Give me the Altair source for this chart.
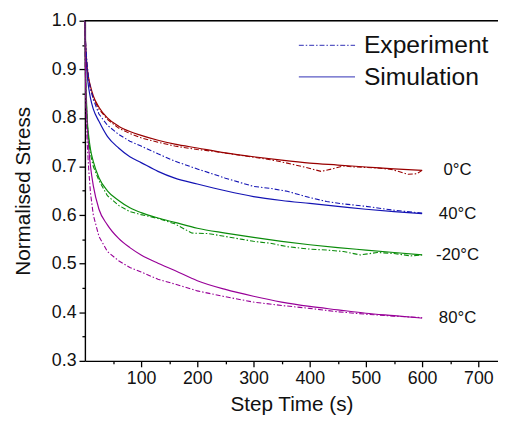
import altair as alt
import pandas as pd

# ---------------- data ----------------
temps = ["0°C", "40°C", "-20°C", "80°C"]
colors = ["#990000", "#1414b4", "#0b8c0b", "#980098"]

sim_t = [0, 1, 2, 4, 7, 10, 15, 25, 40, 60, 80, 100, 130, 160, 200, 250, 300, 350, 400, 450, 500, 550, 600]
sim_0 = [1.0, 0.96, 0.935, 0.905, 0.88, 0.865, 0.845, 0.822, 0.8, 0.783, 0.772, 0.764, 0.754, 0.746, 0.738, 0.728, 0.72, 0.713, 0.707, 0.703, 0.699, 0.695, 0.692]
sim_40 = [1.0, 0.95, 0.925, 0.89, 0.86, 0.84, 0.818, 0.793, 0.762, 0.738, 0.72, 0.708, 0.69, 0.676, 0.664, 0.65, 0.638, 0.63, 0.624, 0.618, 0.612, 0.607, 0.603]
sim_m20 = [1.0, 0.9, 0.86, 0.8, 0.76, 0.735, 0.71, 0.677, 0.65, 0.63, 0.615, 0.605, 0.594, 0.585, 0.573, 0.563, 0.554, 0.546, 0.539, 0.533, 0.528, 0.523, 0.518]
sim_80 = [1.0, 0.9, 0.85, 0.79, 0.735, 0.7, 0.66, 0.612, 0.58, 0.552, 0.533, 0.518, 0.501, 0.486, 0.465, 0.447, 0.433, 0.421, 0.412, 0.405, 0.398, 0.393, 0.388]

exp_0_t = [0, 1, 2, 4, 7, 10, 15, 25, 40, 60, 80, 100, 130, 160, 200, 230, 260, 300, 330, 360, 390, 420, 440, 460, 480, 500, 520, 545, 560, 575, 590, 600]
exp_0 = [1.0, 0.955, 0.93, 0.9, 0.875, 0.86, 0.84, 0.818, 0.797, 0.779, 0.768, 0.759, 0.75, 0.742, 0.735, 0.731, 0.726, 0.719, 0.714, 0.707, 0.699, 0.69, 0.695, 0.701, 0.699, 0.698, 0.697, 0.694, 0.689, 0.684, 0.685, 0.692]

exp_40_t = [0, 1, 2, 4, 7, 10, 15, 25, 40, 60, 80, 100, 130, 160, 200, 250, 300, 330, 360, 400, 430, 460, 500, 550, 600]
exp_40 = [1.0, 0.96, 0.94, 0.91, 0.878, 0.86, 0.838, 0.808, 0.785, 0.766, 0.752, 0.742, 0.726, 0.711, 0.695, 0.676, 0.659, 0.655, 0.649, 0.636, 0.628, 0.623, 0.618, 0.61, 0.604]

exp_m20_t = [0, 1, 2, 4, 7, 10, 15, 25, 40, 60, 80, 100, 130, 160, 190, 220, 250, 280, 300, 330, 360, 400, 430, 460, 490, 520, 550, 580, 600]
exp_m20 = [1.0, 0.89, 0.85, 0.79, 0.75, 0.725, 0.7, 0.671, 0.64, 0.62, 0.607, 0.601, 0.593, 0.582, 0.563, 0.562, 0.556, 0.55, 0.546, 0.542, 0.535, 0.53, 0.528, 0.525, 0.518, 0.523, 0.521, 0.516, 0.518]

exp_80_t = [0, 1, 2, 4, 7, 10, 15, 25, 40, 60, 80, 100, 130, 160, 200, 250, 300, 350, 400, 450, 500, 550, 600]
exp_80 = [1.0, 0.88, 0.82, 0.75, 0.69, 0.645, 0.6, 0.556, 0.525, 0.506, 0.492, 0.483, 0.468, 0.458, 0.444, 0.432, 0.421, 0.414, 0.408, 0.401, 0.396, 0.392, 0.389]

legend_labels = ["Experiment", "Simulation"]

# ---------------- tables ----------------
sim_rows = []
for temp, vals in zip(temps, [sim_0, sim_40, sim_m20, sim_80]):
    for t, v in zip(sim_t, vals):
        sim_rows.append({"t": t, "v": v, "temp": temp})
sim_df = pd.DataFrame(sim_rows)

exp_rows = []
for temp, ts, vals in zip(temps, [exp_0_t, exp_40_t, exp_m20_t, exp_80_t], [exp_0, exp_40, exp_m20, exp_80]):
    for t, v in zip(ts, vals):
        exp_rows.append({"t": t, "v": v, "temp": temp})
exp_df = pd.DataFrame(exp_rows)

label_df = pd.DataFrame({"temp": temps, "v": [s[-1] for s in [sim_0, sim_40, sim_m20, sim_80]]})

FONT = "Liberation Sans"
x_scale = alt.Scale(domain=[0, 735], nice=False, zero=False)
y_scale = alt.Scale(domain=[0.3, 1.0], nice=False, zero=False)
color_scale = alt.Scale(domain=temps, range=colors)

major_y = "abs(datum.value*10 - round(datum.value*10)) < 0.001"

x_axis = alt.Axis(
    values=list(range(50, 701, 50)),
    labelExpr="datum.value % 100 === 0 ? datum.label : ''",
    tickSize={"condition": {"test": "datum.value % 100 === 0", "value": 6}, "value": 3},
    grid=False, domainColor="black", tickColor="black", domainWidth=1.4, tickWidth=1.3,
    labelFont=FONT, labelFontSize=18, labelColor="#111111", labelPadding=3,
    titleFont=FONT, titleFontSize=21, titleFontWeight="normal", titleColor="#111111", titlePadding=6,
    title="Step Time (s)",
)
y_axis = alt.Axis(
    values=[round(0.3 + 0.05 * i, 2) for i in range(15)],
    labelExpr=major_y + " ? format(datum.value, '.1f') : ''",
    tickSize={"condition": {"test": major_y, "value": 6}, "value": 3},
    grid=False, domainColor="black", tickColor="black", domainWidth=1.4, tickWidth=1.3,
    labelFont=FONT, labelFontSize=18, labelColor="#111111", labelPadding=3,
    titleFont=FONT, titleFontSize=21, titleFontWeight="normal", titleColor="#111111", titlePadding=18,
    title="Normalised Stress",
)

X = alt.X("t:Q", scale=x_scale, axis=x_axis)
Y = alt.Y("v:Q", scale=y_scale, axis=y_axis)

sim = alt.Chart(sim_df).mark_line(strokeWidth=1.2, interpolate="monotone").encode(
    x=X, y=Y,
    color=alt.Color("temp:N", scale=color_scale, legend=None),
    order="t:Q",
)
exp = alt.Chart(exp_df).mark_line(strokeWidth=1.1, strokeDash=[5, 2, 1.5, 2]).encode(
    x=X, y=Y,
    color=alt.Color("temp:N", scale=color_scale, legend=None),
    order="t:Q",
)

labels = alt.Chart(label_df).mark_text(font=FONT, fontSize=17, align="center", baseline="middle", color="#111111").encode(
    x=alt.value(378),
    y=Y,
    text="temp:N",
)

top = alt.Chart(pd.DataFrame({"v": [1.0]})).mark_rule(color="black", strokeWidth=1.4).encode(y=Y)

leg_exp_line = alt.Chart(pd.DataFrame({"label": [legend_labels[0]]})).mark_rule(
    color="#5a5ac4", strokeWidth=1.2, strokeDash=[5, 2, 1.5, 2]
).encode(x=alt.value(217), x2=alt.value(274), y=alt.value(25))
leg_sim_line = alt.Chart(pd.DataFrame({"label": [legend_labels[1]]})).mark_rule(
    color="#5a5ac4", strokeWidth=1.2
).encode(x=alt.value(217), x2=alt.value(274), y=alt.value(57))
leg_exp_text = alt.Chart(pd.DataFrame({"label": [legend_labels[0]]})).mark_text(
    font=FONT, fontSize=25, align="left", baseline="middle", color="#111111"
).encode(x=alt.value(283), y=alt.value(25), text="label:N")
leg_sim_text = alt.Chart(pd.DataFrame({"label": [legend_labels[1]]})).mark_text(
    font=FONT, fontSize=25, align="left", baseline="middle", color="#111111"
).encode(x=alt.value(283), y=alt.value(57), text="label:N")

chart = alt.layer(
    sim, exp, top, labels, leg_exp_line, leg_sim_line, leg_exp_text, leg_sim_text
).properties(
    width=419, height=345,
    autosize=alt.AutoSizeParams(type="none"),
    padding={"left": 78, "top": 10, "right": 0, "bottom": 52},
).configure_view(strokeWidth=0).configure(background="white")

chart.save("out.html", embed_options={"renderer": "svg", "actions": False})
